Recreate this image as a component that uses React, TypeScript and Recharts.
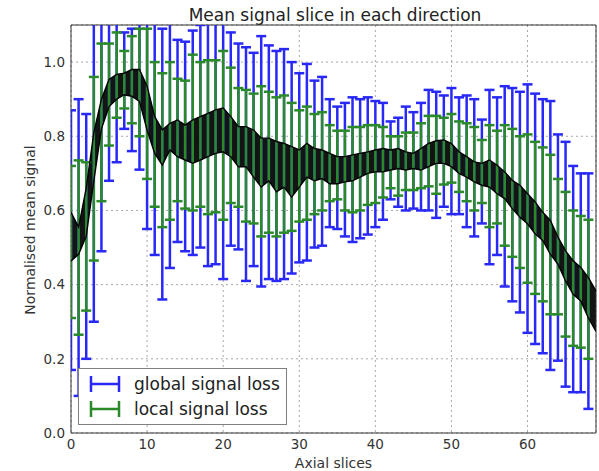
import React from "react";
import {
  ComposedChart,
  Line,
  Area,
  XAxis,
  YAxis,
  CartesianGrid,
  ErrorBar,
  ReferenceArea,
  Legend,
} from "recharts";

// error bars, one per axial slice 0..68
const globalHigh = [
  0.87, 0.9, 0.86, 1.15, 1.15, 1.15, 1.15, 1.08, 1.09, 1.12,
  1.15, 1.15, 1.09, 1.15, 1.06, 1.055, 1.085, 1.1, 1.15, 1.15,
  1.15, 1.08, 1.05, 1.04, 1.025, 1.07, 1.045, 1.03, 1.035, 1.0,
  0.97, 0.995, 0.95, 0.96, 0.9, 0.88, 0.89, 0.905, 0.9, 0.905,
  0.895, 0.89, 0.84, 0.85, 0.88, 0.865, 0.89, 0.925, 0.92, 0.91,
  0.93, 0.905, 0.91, 0.9, 0.845, 0.925, 0.905, 0.935, 0.93, 0.92,
  0.94, 0.915, 0.9, 0.895, 0.805, 0.785, 0.72, 0.7, 0.7,
];
const globalLow = [
  0.17, 0.1, 0.2, 0.3, 0.49, 0.68, 0.73, 0.82, 0.76, 0.71,
  0.55, 0.48, 0.36, 0.445, 0.515, 0.49, 0.48, 0.5, 0.45, 0.455,
  0.415, 0.505, 0.495, 0.41, 0.45, 0.395, 0.415, 0.41, 0.415, 0.43,
  0.46, 0.465, 0.5, 0.505, 0.555, 0.55, 0.53, 0.515, 0.525, 0.535,
  0.555, 0.575, 0.63, 0.61, 0.6, 0.605, 0.6, 0.6, 0.58, 0.61,
  0.59, 0.59, 0.555, 0.53, 0.565, 0.455, 0.48, 0.395, 0.355, 0.325,
  0.27, 0.24, 0.215, 0.17, 0.195, 0.125, 0.11, 0.11, 0.065,
];
const localHigh = [
  0.72, 0.735, 0.73, 0.96, 1.05, 1.05, 1.08, 1.03, 1.07, 1.09,
  1.09, 1.0, 0.97, 1.0, 0.955, 0.95, 1.02, 1.0, 1.005, 1.005,
  1.03, 0.985, 0.93, 0.925, 0.915, 0.935, 0.92, 0.905, 0.91, 0.89,
  0.87, 0.88, 0.86, 0.865, 0.83, 0.815, 0.815, 0.825, 0.825, 0.83,
  0.83, 0.825, 0.8, 0.8, 0.81, 0.81, 0.835, 0.855, 0.855, 0.85,
  0.86, 0.84, 0.835, 0.825, 0.79, 0.83, 0.815, 0.83, 0.82, 0.8,
  0.805, 0.785, 0.77, 0.75, 0.685, 0.65, 0.6, 0.585, 0.575,
];
const localLow = [
  0.31, 0.265, 0.33, 0.465, 0.625, 0.775, 0.85, 0.875, 0.835, 0.8,
  0.685, 0.61, 0.555, 0.575, 0.625, 0.605, 0.6, 0.61, 0.59, 0.595,
  0.575, 0.62, 0.61, 0.57, 0.565, 0.53, 0.54, 0.53, 0.54, 0.545,
  0.57, 0.575, 0.59, 0.6, 0.625, 0.63, 0.6, 0.595, 0.6, 0.615,
  0.62, 0.635, 0.66, 0.64, 0.655, 0.655, 0.66, 0.665, 0.645, 0.67,
  0.675, 0.65, 0.625, 0.6, 0.62, 0.555, 0.565, 0.505, 0.475, 0.445,
  0.405, 0.375, 0.355, 0.32, 0.32, 0.26, 0.235, 0.23, 0.2,
];

// envelope of the per-direction curves, slices 0..69
const bandHigh = [
  0.595, 0.555, 0.66, 0.81, 0.9, 0.953, 0.967, 0.97, 0.98, 0.98,
  0.935, 0.853, 0.817, 0.835, 0.844, 0.83, 0.844, 0.853, 0.862, 0.871,
  0.876, 0.853, 0.826, 0.826, 0.817, 0.795, 0.795, 0.786, 0.781, 0.772,
  0.763, 0.781, 0.767, 0.763, 0.754, 0.745, 0.745, 0.75, 0.754, 0.758,
  0.763, 0.767, 0.763, 0.767, 0.758, 0.754, 0.767, 0.781, 0.788, 0.79,
  0.78, 0.758, 0.745, 0.731, 0.727, 0.736, 0.722, 0.704, 0.681, 0.668,
  0.645, 0.623, 0.595, 0.573, 0.528, 0.491, 0.464, 0.446, 0.419, 0.383,
];
const bandLow = [
  0.464, 0.482, 0.53, 0.68, 0.82, 0.88, 0.9, 0.912, 0.908, 0.894,
  0.817, 0.754, 0.722, 0.763, 0.745, 0.736, 0.727, 0.736, 0.745, 0.754,
  0.758, 0.745, 0.718, 0.718, 0.69, 0.663, 0.68, 0.65, 0.663, 0.636,
  0.663, 0.69, 0.68, 0.686, 0.672, 0.672, 0.677, 0.68, 0.69, 0.7,
  0.704, 0.704, 0.709, 0.713, 0.709, 0.713, 0.709, 0.718, 0.727, 0.727,
  0.718, 0.7, 0.69, 0.677, 0.668, 0.663, 0.645, 0.632, 0.605, 0.582,
  0.564, 0.537, 0.519, 0.482, 0.455, 0.41, 0.374, 0.356, 0.31, 0.274,
];

const xTicks = [0, 10, 20, 30, 40, 50, 60];
const yTicks = [0, 0.2, 0.4, 0.6, 0.8, 1.0];

const BLUE = "#2828f8";
const GREEN = "#2a8a2a";
const FONT = "'DejaVu Sans', sans-serif";

const barRows = globalHigh.map((gh, i) => {
  const gl = globalLow[i];
  const lh = localHigh[i];
  const ll = localLow[i];
  const gMid = (gh + gl) / 2;
  const lMid = (lh + ll) / 2;
  return {
    slice: i,
    gMid,
    gErr: [gMid - gl, gh - gMid],
    lMid,
    lErr: [lMid - ll, lh - lMid],
  };
});

const bandRows = bandHigh.map((h, i) => ({
  slice: i,
  band: [bandLow[i], h],
  hi: h,
  lo: bandLow[i],
}));

const legendItems = [
  { label: "global signal loss", color: BLUE },
  { label: "local signal loss", color: GREEN },
];

function LegendBox() {
  return (
    <div
      style={{
        width: 209,
        height: 57,
        boxSizing: "border-box",
        border: "1px solid #808080",
        background: "#fff",
        position: "relative",
        fontFamily: FONT,
        fontSize: 17,
        color: "#222",
      }}
    >
      {legendItems.map((it, i) => (
        <div
          key={it.label}
          style={{
            position: "absolute",
            left: 10,
            top: 5 + i * 25,
            height: 20,
            display: "flex",
            alignItems: "center",
            whiteSpace: "nowrap",
          }}
        >
          <svg width={32} height={20}>
            <path
              d="M2 10 H30 M2 2 V18 M30 2 V18"
              stroke={it.color}
              strokeWidth={2.5}
              fill="none"
            />
          </svg>
          <span style={{ marginLeft: 13 }}>{it.label}</span>
        </div>
      ))}
    </div>
  );
}

export default function App() {
  return (
    <div style={{ position: "absolute", left: 0, top: 0, width: 599, height: 471, background: "#fff" }}>
      {/* error bars above 1.1 are cut at the frame like in the original */}
      <style>{`.recharts-errorBars, .recharts-errorBar { clip-path: url(#plotClip); }`}</style>
      <svg width={0} height={0} style={{ position: "absolute" }}>
        <defs>
          <clipPath id="plotClip" clipPathUnits="userSpaceOnUse">
            <rect x={71} y={25} width={525} height={408} />
          </clipPath>
        </defs>
      </svg>
      <div
        style={{
          position: "absolute",
          left: 0,
          width: 670,
          top: 5,
          textAlign: "center",
          fontFamily: FONT,
          fontSize: 17,
          color: "#222",
          whiteSpace: "nowrap",
        }}
      >
        Mean signal slice in each direction
      </div>
      <ComposedChart
        width={599}
        height={471}
        data={bandRows}
        margin={{ top: 25, right: 3, bottom: 0, left: 0 }}
      >
        <CartesianGrid stroke="#a8a8a8" strokeDasharray="2 3" />
        <XAxis
          dataKey="slice"
          type="number"
          domain={[0, 69]}
          ticks={xTicks}
          allowDataOverflow
          height={38}
          axisLine={false}
          tickLine={false}
          tickSize={4}
          tickMargin={2}
          tick={{ fontSize: 13.5, fill: "#333", fontFamily: FONT }}
          label={{ value: "Axial slices", position: "insideBottom", offset: 3, fontSize: 14, fill: "#333", fontFamily: FONT }}
        />
        <YAxis
          type="number"
          domain={[0, 1.1]}
          ticks={yTicks}
          allowDataOverflow
          width={71}
          axisLine={false}
          tickLine={false}
          tickSize={4}
          tickMargin={2}
          tickFormatter={(v: number) => v.toFixed(1)}
          tick={{ fontSize: 13.5, fill: "#333", fontFamily: FONT }}
          label={{
            content: () => (
              <text
                x={30}
                y={230}
                transform="rotate(-90 30 230)"
                textAnchor="middle"
                dominantBaseline="central"
                fontSize={14}
                fill="#333"
                fontFamily={FONT}
              >
                Normalised mean signal
              </text>
            ),
          }}
        />
        <Line
          data={barRows}
          dataKey="gMid"
          stroke="none"
          dot={false}
          activeDot={false}
          legendType="none"
          isAnimationActive={false}
        >
          <ErrorBar dataKey="gErr" direction="y" width={5} stroke={BLUE} strokeWidth={2.5} />
        </Line>
        <Line
          data={barRows}
          dataKey="lMid"
          stroke="none"
          dot={false}
          activeDot={false}
          legendType="none"
          isAnimationActive={false}
        >
          <ErrorBar dataKey="lErr" direction="y" width={5} stroke={GREEN} strokeWidth={2.5} />
        </Line>
        <Area
          dataKey="band"
          type="linear"
          stroke="none"
          fill="#000"
          fillOpacity={0.92}
          activeDot={false}
          isAnimationActive={false}
        />
        <Line dataKey="hi" type="linear" stroke="#000" strokeWidth={1.4} dot={false} activeDot={false} isAnimationActive={false} />
        <Line dataKey="lo" type="linear" stroke="#000" strokeWidth={1.4} dot={false} activeDot={false} isAnimationActive={false} />
        <ReferenceArea x1={0} x2={69} y1={0} y2={1.1} fill="none" stroke="#333" strokeWidth={1} ifOverflow="visible" />
        <Legend
          layout="horizontal"
          verticalAlign="middle"
          align="center"
          wrapperStyle={{ left: 78, top: 368, width: 209, height: 57 }}
          content={() => <LegendBox />}
        />
      </ComposedChart>
    </div>
  );
}
